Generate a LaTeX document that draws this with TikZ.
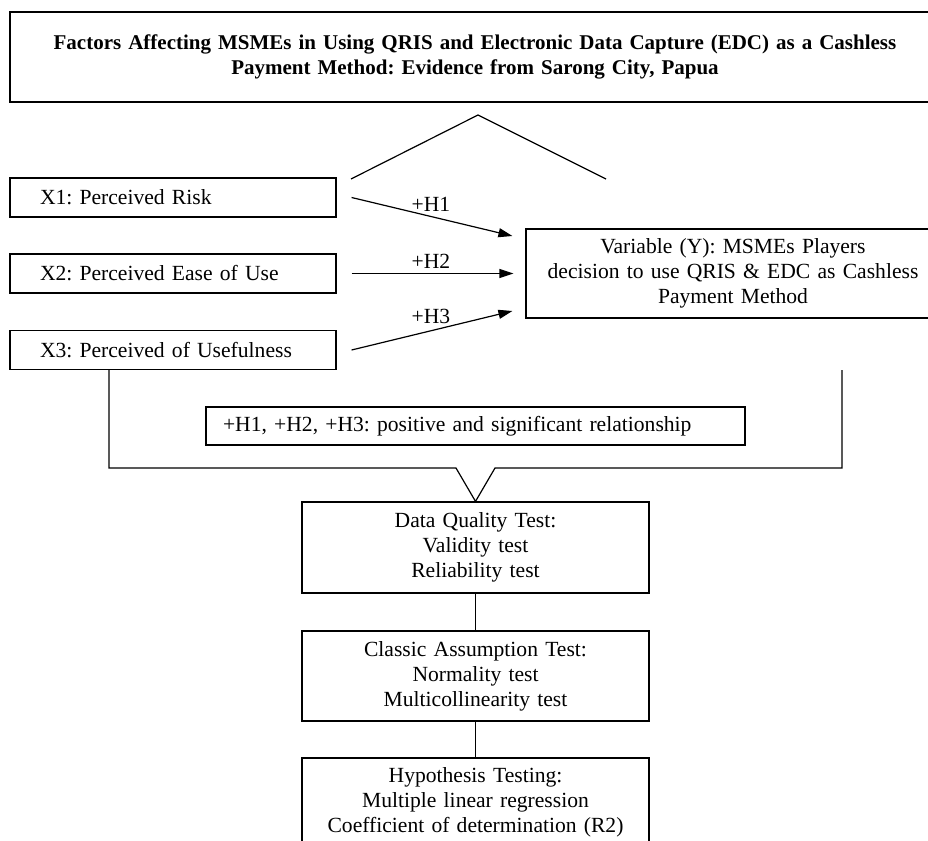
\documentclass[tikz,border=0pt]{standalone}
\usepackage{fontspec}
\setmainfont{Liberation Serif}
\usetikzlibrary{arrows.meta}
\frenchspacing
\begin{document}
\begin{tikzpicture}[x=1pt,y=-1pt,
  font=\fontsize{21.6}{25}\selectfont,
  box/.style={draw, line width=1.2pt, rectangle, inner sep=0pt},
  xbox/.style={box, minimum width=326pt, minimum height=39pt, text width=266pt, inner xsep=30pt, align=left},
  cbox/.style={box, minimum width=347pt, text width=340pt, align=center},
  arr/.style={-{Triangle[length=14pt,width=9pt]}, line width=1.2pt},
  ln/.style={line width=1.2pt},
  lab/.style={inner sep=0pt, anchor=center}]
\useasboundingbox (0,0) rectangle (928,840);
% title
\node[box, minimum width=930pt, minimum height=90pt, text width=920pt, align=center,
  font=\fontsize{21}{25}\selectfont\bfseries] (title) at (475,57)
  {Factors Affecting MSMEs in Using QRIS and Electronic Data Capture (EDC) as a Cashless\\Payment Method: Evidence from Sarong City, Papua};
% roof
\coordinate (rl) at (351,179);
\coordinate (rp) at (478,115);
\coordinate (rr) at (606,179);
\draw[ln] (rl) -- (rp) -- (rr);
% X boxes
\node[xbox] (x1) at (173,197.5) {X1: Perceived Risk};
\node[xbox] (x2) at (173,273.5) {X2: Perceived Ease of Use};
\node[xbox] (x3) at (173,350) {X3: Perceived of Usefulness};
% Y box
\node[box, minimum width=414pt, minimum height=89pt, text width=400pt, align=center] (yv) at (733,273.5)
  {Variable (Y): MSMEs Players\\decision to use QRIS \& EDC as Cashless\\Payment Method};
% arrows
\draw[arr] ([xshift=15pt]x1.east) -- ([xshift=-13pt,yshift=37.5pt]yv.west);
\draw[arr] ([xshift=15pt]x2.east) -- ([xshift=-12pt]yv.west);
\draw[arr] ([xshift=15pt]x3.east) -- ([xshift=-13pt,yshift=-37.5pt]yv.west);
\node[lab] (h1) at (431,204) {+H1};
\node[lab] (h2) at (431,261) {+H2};
\node[lab] (h3) at (431,316) {+H3};
% relationship box
\node[box, minimum width=539pt, minimum height=38pt, text width=505pt, inner xsep=17pt, align=left] (rel) at (475.5,426)
  {+H1, +H2, +H3: positive and significant relationship};
% test boxes
\node[cbox, minimum height=91pt] (dq) at (475.5,547.5) {Data Quality Test:\\Validity test\\Reliability test};
\node[cbox, minimum height=90pt] (ca) at (475.5,676) {Classic Assumption Test:\\Normality test\\Multicollinearity test};
\node[cbox, minimum height=88pt] (ht) at (475.5,802) {Hypothesis Testing:\\Multiple linear regression\\Coefficient of determination (R2)};
% bracket
\coordinate (bl) at (109,468);
\coordinate (vl) at (456,468);
\coordinate (vr) at (495,468);
\coordinate (br) at (842,468);
\draw[ln] (x3.south -| bl) -- (bl) -- (vl) -- (dq.north) -- (vr) -- (br) -- (br |- x3.south);
% connectors
\draw[ln] (dq.south) -- (ca.north);
\draw[ln] (ca.south) -- (ht.north);
\end{tikzpicture}
\end{document}
